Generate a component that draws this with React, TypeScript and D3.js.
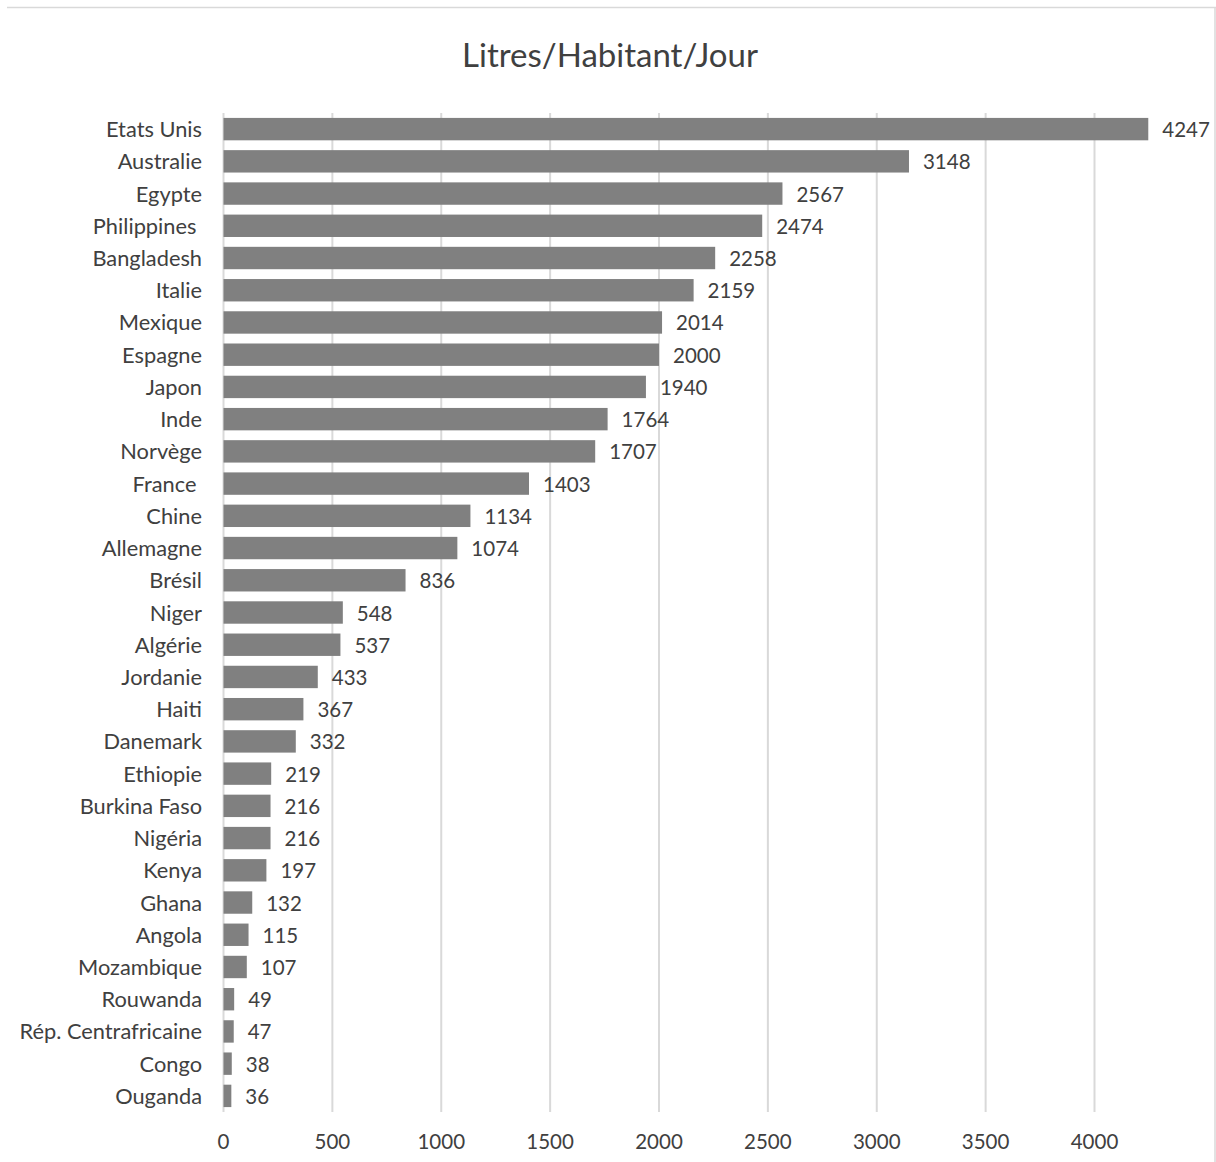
import React from "react";
import * as d3 from "d3";

const categories = [
  "Etats Unis", "Australie", "Egypte", "Philippines ", "Bangladesh", "Italie", "Mexique", "Espagne",
  "Japon", "Inde", "Norvège", "France ", "Chine", "Allemagne", "Brésil", "Niger", "Algérie",
  "Jordanie", "Haiti", "Danemark", "Ethiopie", "Burkina Faso", "Nigéria", "Kenya", "Ghana",
  "Angola", "Mozambique", "Rouwanda", "Rép. Centrafricaine", "Congo", "Ouganda",
];
const values = [
  4247, 3148, 2567, 2474, 2258, 2159, 2014, 2000, 1940, 1764, 1707, 1403, 1134, 1074, 836, 548,
  537, 433, 367, 332, 219, 216, 216, 197, 132, 115, 107, 49, 47, 38, 36,
];
const xTicks = [0, 500, 1000, 1500, 2000, 2500, 3000, 3500, 4000];
const title = "Litres/Habitant/Jour";

const W = 1216;
const H = 1162;
const FONT = "Lato, 'Open Sans', sans-serif";

export default function App() {
  const x = d3.scaleLinear().domain([0, 4000]).range([223.5, 1094.5]);
  const y = d3
    .scaleBand<string>()
    .domain(categories)
    .range([113, 1112])
    .paddingInner(0.305)
    .paddingOuter(0.1525);

  return (
    <svg
      width={W}
      height={H}
      style={{ position: "absolute", left: 0, top: 0, background: "#fff" }}
      fontFamily={FONT}
    >
      <line x1={7} x2={W} y1={7.5} y2={7.5} stroke="#d9d9d9" strokeWidth={1.5} />
      <line x1={1215} x2={1215} y1={7} y2={H} stroke="#d9d9d9" strokeWidth={1.5} />
      <text x={610} y={67} textAnchor="middle" fontSize={33} fill="#404040">
        {title}
      </text>
      {xTicks.map((t) => (
        <g key={t}>
          <line x1={x(t)} x2={x(t)} y1={113} y2={1112} stroke="#d9d9d9" strokeWidth={2} />
          <text x={x(t)} y={1149} textAnchor="middle" fontSize={20.5} fill="#404040">
            {t}
          </text>
        </g>
      ))}
      {categories.map((c, i) => {
        const by = y(c)!;
        const bh = y.bandwidth();
        return (
          <g key={c}>
            <rect x={x(0)} y={by} width={x(values[i]) - x(0)} height={bh} fill="#808080" />
            <text
              x={202}
              y={by + bh / 2 + 8}
              textAnchor="end"
              fontSize={21.8}
              fill="#404040"
              style={{ whiteSpace: "pre" }}
            >
              {c}
            </text>
            <text x={x(values[i]) + 14} y={by + bh / 2 + 8} fontSize={20.5} fill="#404040">
              {values[i]}
            </text>
          </g>
        );
      })}
    </svg>
  );
}
